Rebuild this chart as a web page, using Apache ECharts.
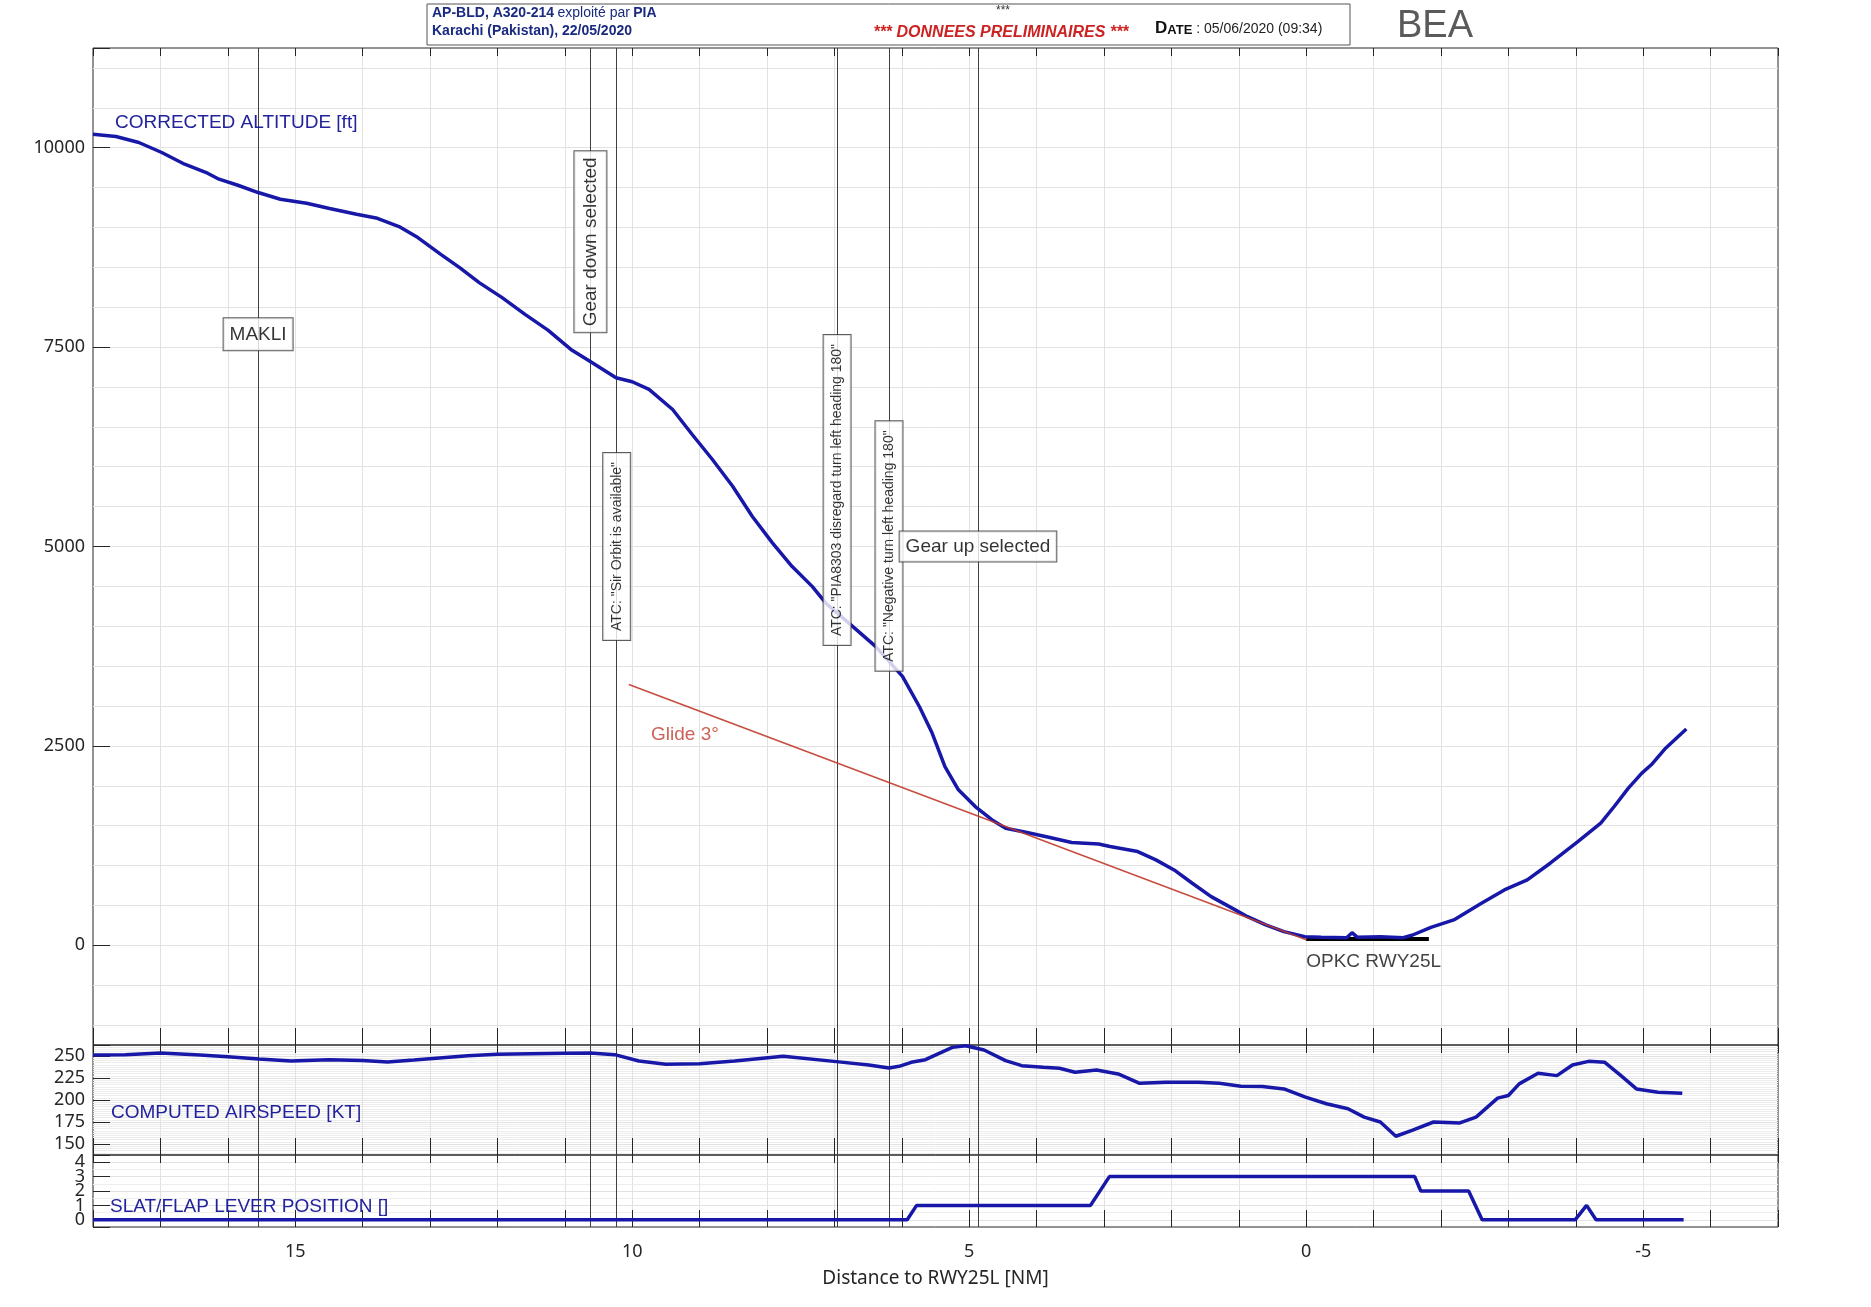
<!DOCTYPE html>
<html><head><meta charset="utf-8">
<script src="https://cdn.jsdelivr.net/npm/echarts@6/dist/echarts.min.js"></script>
<style>html,body{margin:0;padding:0;background:#fff;}#c{width:1871px;height:1307px;}</style>
</head><body><div id="c"></div>
<script>
// ---------- DATA ----------
const altDist = [18.0, 17.66, 17.32, 16.98, 16.64, 16.3, 16.13, 15.85, 15.55, 15.22, 14.83, 14.49, 14.09, 13.8, 13.46, 13.18, 12.84, 12.56, 12.27, 11.93, 11.59, 11.25, 10.91, 10.61, 10.24, 10.0, 9.75, 9.4, 9.11, 8.81, 8.51, 8.22, 7.92, 7.63, 7.33, 7.13, 6.73, 6.39, 5.99, 5.74, 5.55, 5.36, 5.16, 4.91, 4.66, 4.46, 4.16, 3.82, 3.48, 3.08, 2.91, 2.5, 2.23, 1.96, 1.69, 1.41, 1.14, 0.87, 0.6, 0.33, 0.02, -0.22, -0.6, -0.68, -0.76, -1.1, -1.44, -1.58, -1.85, -2.19, -2.6, -2.94, -3.28, -3.62, -4.03, -4.37, -4.57, -4.78, -4.98, -5.12, -5.32, -5.52, -5.64];
const altFt = [10169, 10140, 10065, 9940, 9793, 9680, 9605, 9529, 9438, 9354, 9304, 9237, 9165, 9119, 9011, 8873, 8663, 8496, 8308, 8120, 7910, 7713, 7471, 7312, 7116, 7066, 6969, 6718, 6404, 6091, 5756, 5379, 5045, 4752, 4500, 4292, 3998, 3747, 3371, 2994, 2661, 2241, 1949, 1739, 1572, 1468, 1418, 1355, 1288, 1271, 1238, 1175, 1071, 945, 778, 610, 485, 359, 255, 171, 108, 100, 95, 158, 100, 108, 96, 129, 225, 318, 527, 694, 820, 1029, 1300, 1531, 1740, 1970, 2159, 2263, 2460, 2618, 2711];

const iasDist = [18.0, 17.52, 17.0, 16.41, 16.0, 15.54, 15.06, 14.5, 14.0, 13.63, 13.24, 12.44, 12.0, 11.0, 10.62, 10.26, 9.9, 9.5, 9.0, 8.48, 7.76, 6.97, 6.49, 6.19, 6.04, 5.86, 5.65, 5.25, 5.05, 4.78, 4.46, 4.22, 3.9, 3.66, 3.43, 3.11, 2.79, 2.47, 2.08, 1.6, 1.29, 0.97, 0.65, 0.33, 0.01, -0.3, -0.62, -0.86, -1.1, -1.33, -1.57, -1.89, -2.28, -2.52, -2.84, -3.0, -3.16, -3.44, -3.72, -3.95, -4.19, -4.43, -4.67, -4.9, -5.22, -5.58];
const iasKt = [251, 251.4, 253.4, 251, 249.2, 246.6, 244.3, 245.8, 245, 243.2, 245.4, 250.4, 251.9, 253, 253.4, 251.5, 244.3, 240.6, 241.3, 244.3, 249.6, 243.6, 239.8, 236.4, 238.3, 242.8, 245.8, 259.8, 261.7, 256.8, 244.7, 239, 237.1, 236, 231.5, 234.1, 229.6, 219, 220.2, 220.2, 219, 215.7, 215.3, 212.6, 203.2, 195.7, 190, 180.6, 175, 158.8, 165.6, 175, 173.9, 180.6, 202.1, 205.1, 218.3, 230.3, 227.7, 239.8, 243.9, 242.8, 227.7, 212.6, 208.9, 207.7];

const flapDist = [18.0, 5.92, 5.78, 3.2, 2.92, -1.61, -1.7, -2.41, -2.61, -3.99, -4.16, -4.3, -5.6];
const flapPos = [0, 0, 1, 1, 3, 3, 2, 2, 0, 0, 1, 0, 0];

const glideDist = [10.05, 0];
const glideFt = [3270, 70];
const rwyDist = [0, -1.82];
const rwyFt = [80, 80];

const eventDist = [15.55, 10.62, 10.23, 6.96, 6.19, 4.87];
const eventText = ['MAKLI', 'Gear down selected', 'ATC: "Sir Orbit is available"', 'ATC: "PIA8303 disregard turn left heading 180"', 'ATC: "Negative turn left heading 180"', 'Gear up selected'];
const noteText = ['Glide 3°', 'OPKC RWY25L'];

const altTicks = [0, 2500, 5000, 7500, 10000];
const iasTicks = [150, 175, 200, 225, 250];
const flapTicks = [0, 1, 2, 3, 4];
const distTicks = [15, 10, 5, 0, -5];

// ---------- LAYOUT / STYLE ----------
const eventLabelAlt = [7660, 8820, 5000, 5708, 5005, 5000];
const eventLabelRot = [0, 90, 90, 90, 90, 0];
const eventLabelFont = [19, 19, 14, 14, 14, 19];
const eventLabelPad = [[6, 6], [6, 6], [6, 9], [6, 9], [6, 9], [5, 6]];
const noteAnchor = [[9.72, 2639], [0, -206]];
const noteColor = ['#c0392b', '#111'];

const BLUE = '#1818a8';
const LBL = '#22229c';
const AX = '#262626';
const GRIDC = '#e2e2e2';
const zip = (a, b) => a.map((v, i) => [v, b[i]]);

const chart = echarts.init(document.getElementById('c'), null, {renderer: 'canvas'});

function xAx(gi, pos) {
  const bottom = pos === 'bottom';
  const last = gi === 2 && bottom;
  return {
    type: 'value', gridIndex: gi, position: pos, min: -7, max: 18, interval: 1, inverse: true,
    axisLine: {show: false, onZero: false},
    axisTick: {show: true, inside: true, length: bottom ? 17 : 8, lineStyle: {color: AX, width: 1}},
    axisLabel: {show: last, margin: 16, fontSize: 18, color: AX, fontFamily: 'Noto Sans',
      formatter: v => distTicks.includes(v) ? String(v) : ''},
    splitLine: {show: bottom, showMinLine: false, showMaxLine: false, lineStyle: {color: GRIDC, width: 1}},
    name: last ? 'Distance to RWY25L [NM]' : '',
    nameLocation: 'middle', nameGap: 42,
    nameTextStyle: {fontSize: 19, color: AX, fontFamily: 'Noto Sans'}
  };
}
function yAx(gi, min, max, step, minorN, ticks, minorColor) {
  return {
    type: 'value', gridIndex: gi, position: 'left', min: min, max: max, minInterval: step, maxInterval: step,
    axisLine: {show: false, onZero: false},
    axisTick: {show: true, inside: true, length: 17, lineStyle: {color: AX, width: 1}},
    axisLabel: {margin: 8, fontSize: 18, color: AX, fontFamily: 'Noto Sans',
      formatter: v => ticks.includes(v) ? String(v) : ''},
    splitLine: {show: true, showMinLine: false, showMaxLine: false, lineStyle: {color: GRIDC, width: 1}},
    minorTick: {show: false, splitNumber: minorN},
    minorSplitLine: {show: true, lineStyle: {color: minorColor, width: 1}}
  };
}

const evLines = {
  silent: true, symbol: ['none', 'none'], label: {show: false}, animation: false,
  lineStyle: {color: '#404040', width: 1, type: 'solid'},
  emphasis: {disabled: true},
  data: eventDist.map(d => ({xAxis: d}))
};

const gridBase = {left: 93, width: 1685, show: true, borderColor: AX, borderWidth: 1, backgroundColor: 'rgba(0,0,0,0)'};

const option = {
  animation: false,
  textStyle: {fontFamily: 'Liberation Sans'},
  grid: [
    Object.assign({top: 48, height: 997}, gridBase),
    Object.assign({top: 1045, height: 110}, gridBase),
    Object.assign({top: 1155, height: 72}, gridBase)
  ],
  xAxis: [xAx(0, 'bottom'), xAx(0, 'top'), xAx(1, 'bottom'), xAx(1, 'top'), xAx(2, 'bottom'), xAx(2, 'top')],
  yAxis: [
    yAx(0, -1250, 11250, 2500, 5, altTicks, GRIDC),
    yAx(1, 137.5, 262.5, 25, 10, iasTicks, '#ececec'),
    yAx(2, -0.5, 4.5, 1, 2, flapTicks, '#eeeeee')
  ],
  series: [
    {type: 'line', xAxisIndex: 0, yAxisIndex: 0, data: zip(rwyDist, rwyFt), symbol: 'none',
      lineStyle: {color: '#000', width: 4}, z: 4, silent: true},
    {type: 'line', xAxisIndex: 0, yAxisIndex: 0, data: zip(altDist, altFt), symbol: 'none', showSymbol: false,
      lineStyle: {color: BLUE, width: 3.5}, z: 5, silent: true, markLine: evLines},
    {type: 'line', xAxisIndex: 0, yAxisIndex: 0, data: zip(glideDist, glideFt), symbol: 'none',
      lineStyle: {color: '#c0392b', width: 1.5, opacity: 0.9}, z: 6, silent: true},
    {type: 'line', xAxisIndex: 2, yAxisIndex: 1, data: zip(iasDist, iasKt), symbol: 'none',
      lineStyle: {color: BLUE, width: 3.5}, z: 5, silent: true, markLine: evLines},
    {type: 'line', xAxisIndex: 4, yAxisIndex: 2, data: zip(flapDist, flapPos), symbol: 'none',
      lineStyle: {color: BLUE, width: 3.5}, z: 5, silent: true, markLine: evLines},
    {type: 'scatter', xAxisIndex: 0, yAxisIndex: 0, symbolSize: 0, z: 10, silent: true,
      data: eventDist.map((d, i) => ({
        value: [d, eventLabelAlt[i]],
        label: {
          show: true, position: 'inside', formatter: eventText[i], rotate: eventLabelRot[i],
          fontSize: eventLabelFont[i], lineHeight: eventLabelFont[i] + 1, color: '#000',
          fontFamily: 'Liberation Sans', backgroundColor: '#fff', borderColor: '#333', borderWidth: 1,
          padding: eventLabelPad[i]
        }
      }))},
    {type: 'scatter', xAxisIndex: 0, yAxisIndex: 0, symbolSize: 0, z: 10, silent: true,
      data: noteText.map((t, i) => ({
        value: noteAnchor[i],
        label: {show: true, position: 'right', distance: 0, formatter: t, fontSize: 19,
          color: noteColor[i], fontFamily: 'Liberation Sans'}
      }))}
  ],
  graphic: [
    {type: 'text', style: {x: 115, y: 123, text: 'CORRECTED ALTITUDE [ft]', fill: LBL, font: '19px "Liberation Sans"', textVerticalAlign: 'middle', verticalAlign: 'middle'}, z: 20},
    {type: 'text', style: {x: 111, y: 1113, text: 'COMPUTED AIRSPEED [KT]', fill: LBL, font: '19px "Liberation Sans"', textVerticalAlign: 'middle', verticalAlign: 'middle'}, z: 20},
    {type: 'text', style: {x: 110, y: 1207, text: 'SLAT/FLAP LEVER POSITION []', fill: LBL, font: '19px "Liberation Sans"', textVerticalAlign: 'middle', verticalAlign: 'middle'}, z: 20},
    {type: 'rect', shape: {x: 427, y: 4, width: 923, height: 41}, style: {fill: '#fff', stroke: '#555', lineWidth: 1}, z: 20},
    {type: 'text', z: 21, style: {x: 432, y: 13, textVerticalAlign: 'middle', verticalAlign: 'middle',
      text: '{b|AP-BLD, A320-214} {n|exploité par} {b|PIA}',
      rich: {b: {fontSize: 14, fontWeight: 'bold', fill: '#1a2a80', color: '#1a2a80', fontFamily: 'Liberation Sans'},
             n: {fontSize: 14, fill: '#1a2a80', color: '#1a2a80', fontFamily: 'Liberation Sans'}}}},
    {type: 'text', z: 21, style: {x: 432, y: 31, textVerticalAlign: 'middle', verticalAlign: 'middle',
      text: 'Karachi (Pakistan), 22/05/2020', fill: '#1a2a80', font: 'bold 14px "Liberation Sans"'}},
    {type: 'text', z: 21, style: {x: 1003, y: 11, textAlign: 'center', align: 'center', textVerticalAlign: 'middle', verticalAlign: 'middle',
      text: '***', fill: '#333', font: '12px "Liberation Sans"'}},
    {type: 'text', z: 21, style: {x: 1001, y: 33, textAlign: 'center', align: 'center', textVerticalAlign: 'middle', verticalAlign: 'middle',
      text: '*** DONNEES PRELIMINAIRES ***', fill: '#cc2222', font: 'italic bold 16px "Liberation Sans"'}},
    {type: 'text', z: 21, style: {x: 1155, y: 28, textVerticalAlign: 'middle', verticalAlign: 'middle',
      text: '{d1|D}{d2|ATE}{n| : 05/06/2020 (09:34)}',
      rich: {d1: {fontSize: 17, fontWeight: 'bold', fill: '#111', color: '#111', verticalAlign: 'bottom', fontFamily: 'Liberation Sans'},
             d2: {fontSize: 13, fontWeight: 'bold', fill: '#111', color: '#111', verticalAlign: 'bottom', fontFamily: 'Liberation Sans'},
             n: {fontSize: 14, fill: '#222', color: '#222', verticalAlign: 'bottom', fontFamily: 'Liberation Sans'}}}},
    {type: 'text', z: 21, style: {x: 1397, y: 27, textVerticalAlign: 'middle', verticalAlign: 'middle',
      text: 'BEA', fill: '#5a5a5a', font: '38px "Liberation Sans"'}}
  ]
};
chart.setOption(option);
</script></body></html>
